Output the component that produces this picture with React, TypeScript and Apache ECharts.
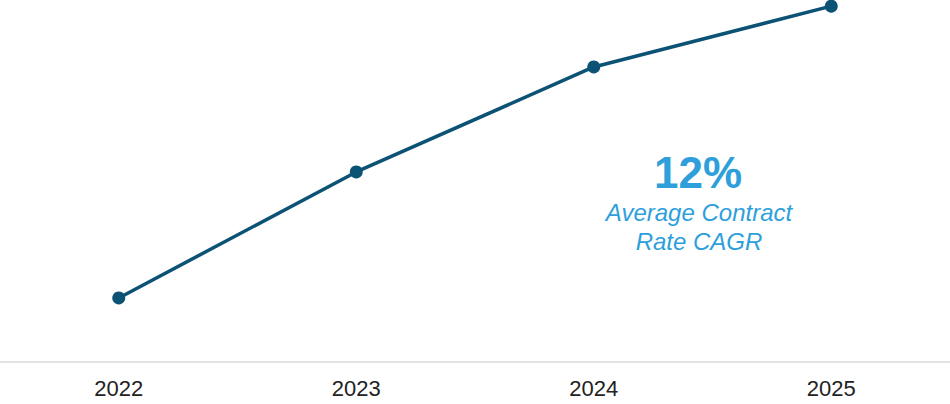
import React, { useEffect, useRef } from "react";
import * as echarts from "echarts";

const years = ["2022", "2023", "2024", "2025"];
const contractRate = [17.7, 52.5, 81.5, 98.3];
const cagrValue = "12%";
const cagrLabel = ["Average Contract", "Rate CAGR"];

const FONT = "Liberation Sans, Arial, sans-serif";
const ACCENT = "#2e9fdb";

export default function App() {
  const ref = useRef<HTMLDivElement>(null);
  useEffect(() => {
    if (!ref.current) return;
    const chart = echarts.init(ref.current, null, { renderer: "svg" });
    chart.setOption({
      animation: false,
      grid: { left: 0, right: 0, top: 0, bottom: 42 },
      xAxis: {
        type: "category",
        data: years,
        boundaryGap: true,
        axisLine: { show: true, lineStyle: { color: "#e2e2e2", width: 2 } },
        axisTick: { show: false },
        axisLabel: {
          color: "#222222",
          fontSize: 22,
          fontFamily: FONT,
          margin: 15,
        },
      },
      yAxis: {
        type: "value",
        min: 0,
        max: 100,
        show: false,
        splitLine: { show: false },
      },
      series: [
        {
          type: "line",
          data: contractRate,
          symbol: "circle",
          symbolSize: 13,
          lineStyle: { color: "#0b5275", width: 3.5 },
          itemStyle: { color: "#0b5275" },
        },
      ],
      graphic: [
        {
          type: "text",
          x: 698,
          y: 172,
          style: {
            text: cagrValue,
            fill: ACCENT,
            font: `bold 44px ${FONT}`,
            align: "center",
            verticalAlign: "middle",
          },
        },
        {
          type: "text",
          x: 699,
          y: 212,
          style: {
            text: cagrLabel[0],
            fill: ACCENT,
            font: `italic 24px ${FONT}`,
            align: "center",
            verticalAlign: "middle",
          },
        },
        {
          type: "text",
          x: 699,
          y: 241,
          style: {
            text: cagrLabel[1],
            fill: ACCENT,
            font: `italic 24px ${FONT}`,
            align: "center",
            verticalAlign: "middle",
          },
        },
      ],
    });
    return () => chart.dispose();
  }, []);
  return (
    <div
      ref={ref}
      style={{ position: "fixed", left: 0, top: 0, width: 950, height: 404, background: "#ffffff" }}
    />
  );
}
